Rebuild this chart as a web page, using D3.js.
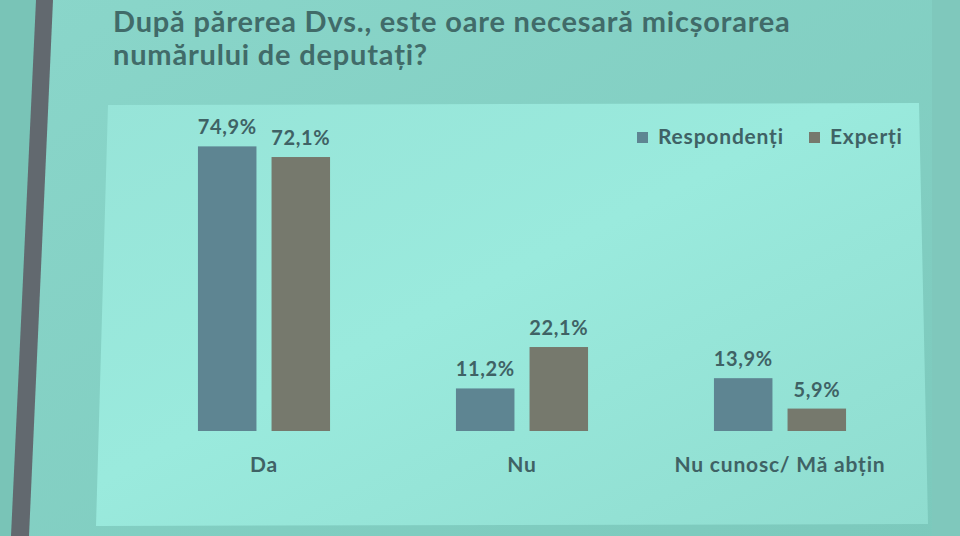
<!DOCTYPE html>
<html>
<head>
<meta charset="utf-8">
<script src="https://cdn.jsdelivr.net/npm/d3@7"></script>
<style>
  html, body { margin: 0; padding: 0; background: #82cfc3; }
  svg { display: block; }
</style>
</head>
<body>
<div id="chart"></div>
<script>
var svgWidth = 960;
var svgHeight = 536;

// data
var titleLines = ["După părerea Dvs., este oare necesară micșorarea", "numărului de deputați?"];
var categories = ["Da", "Nu", "Nu cunosc/ Mă abțin"];
var seriesNames = ["Respondenți", "Experți"];
var respondenti = [74.9, 11.2, 13.9];
var experti = [72.1, 22.1, 5.9];
var seriesColors = ["#5e8592", "#76796d"];

var rows = categories.map(function(c, i) {
  return {cat: c, values: [respondenti[i], experti[i]]};
});

var fmt = d3.formatLocale({decimal: ",", thousands: ".", grouping: [3], currency: ["", ""]}).format(".1f");
var font = "Lato, 'Open Sans', sans-serif";

var svg = d3.select("#chart").append("svg").attr("width", svgWidth).attr("height", svgHeight);

// projected-slide background
var defs = svg.append("defs");
var bgGrad = defs.append("linearGradient").attr("id", "bg").attr("x1", 0).attr("y1", 0).attr("x2", 1).attr("y2", 1);
bgGrad.append("stop").attr("offset", "0%").attr("stop-color", "#8ad6ca");
bgGrad.append("stop").attr("offset", "100%").attr("stop-color", "#7cc9bc");
var panelGrad = defs.append("linearGradient").attr("id", "panel").attr("x1", 0).attr("y1", 0).attr("x2", 1).attr("y2", 1);
panelGrad.append("stop").attr("offset", "0%").attr("stop-color", "#97e4d8");
panelGrad.append("stop").attr("offset", "45%").attr("stop-color", "#9aeadd");
panelGrad.append("stop").attr("offset", "100%").attr("stop-color", "#8fdccf");

svg.append("rect").attr("width", svgWidth).attr("height", svgHeight).attr("fill", "url(#bg)");
svg.append("rect").attr("x", 932).attr("width", 28).attr("height", svgHeight).attr("fill", "#7fc8bc");
svg.append("polygon").attr("points", "0,0 40,0 14,536 0,536").attr("fill", "#79c4b7");
svg.append("polygon").attr("points", "36,0 53,0 29,536 11,536").attr("fill", "#62696f");

svg.append("polygon").attr("points", "108,105 919,103 928,524 96,526").attr("fill", "url(#panel)");

// title
var title = svg.append("text").attr("x", 113).attr("y", 32)
  .style("font-family", font).style("font-weight", "bold")
  .style("font-size", "29px").style("letter-spacing", "0.8px").attr("fill", "#416b69");
title.selectAll("tspan").data(titleLines).enter().append("tspan")
  .attr("x", 113).attr("dy", function(d, i) { return i === 0 ? 0 : 33; })
  .text(function(d) { return d; });

// scales
var x0 = d3.scaleBand().domain(categories).range([135, 909]).paddingInner(0.488).paddingOuter(0.244);
var x1 = d3.scaleBand().domain(seriesNames).range([0, x0.bandwidth()]).paddingInner(0.205);
var y = d3.scaleLinear().domain([0, 80]).range([431, 127]);

var chartGroup = svg.append("g");

var groups = chartGroup.selectAll(".cat").data(rows).enter().append("g").attr("class", "cat")
  .attr("transform", function(d) { return "translate(" + x0(d.cat) + ",0)"; });

var bars = groups.selectAll("rect").data(function(d) {
    return d.values.map(function(v, i) { return {name: seriesNames[i], value: v, i: i}; });
  }).enter();

bars.append("rect")
  .attr("x", function(d) { return x1(d.name); })
  .attr("y", function(d) { return y(d.value); })
  .attr("width", x1.bandwidth())
  .attr("height", function(d) { return y(0) - y(d.value); })
  .attr("fill", function(d) { return seriesColors[d.i]; });

bars.append("text")
  .attr("x", function(d) { return x1(d.name) + x1.bandwidth() / 2; })
  .attr("y", function(d) { return y(d.value) - 12; })
  .attr("text-anchor", "middle")
  .style("font-family", font).style("font-weight", "bold").style("font-size", "20px").style("letter-spacing", "0.6px")
  .attr("fill", "#3f6265")
  .text(function(d) { return fmt(d.value) + "%"; });

// category axis (no line, no ticks)
var bottomAxis = d3.axisBottom(x0).tickSize(0).tickPadding(0);
var axisG = chartGroup.append("g").attr("transform", "translate(0," + (y(0) + 26) + ")").call(bottomAxis);
axisG.select(".domain").remove();
axisG.selectAll("text")
  .style("font-family", font).style("font-weight", "bold").style("font-size", "21px").style("letter-spacing", "0.8px")
  .attr("fill", "#3f6265");

// legend
var legendX = [637, 809];
var legend = svg.selectAll(".legend").data(seriesNames).enter().append("g").attr("class", "legend")
  .attr("transform", function(d, i) { return "translate(" + legendX[i] + ",132)"; });
legend.append("rect").attr("width", 11).attr("height", 11).attr("fill", function(d, i) { return seriesColors[i]; });
legend.append("text").attr("x", 21).attr("y", 12)
  .style("font-family", font).style("font-weight", "bold").style("font-size", "21px").style("letter-spacing", "0.8px")
  .attr("fill", "#3f6265")
  .text(function(d) { return d; });
</script>
</body>
</html>
